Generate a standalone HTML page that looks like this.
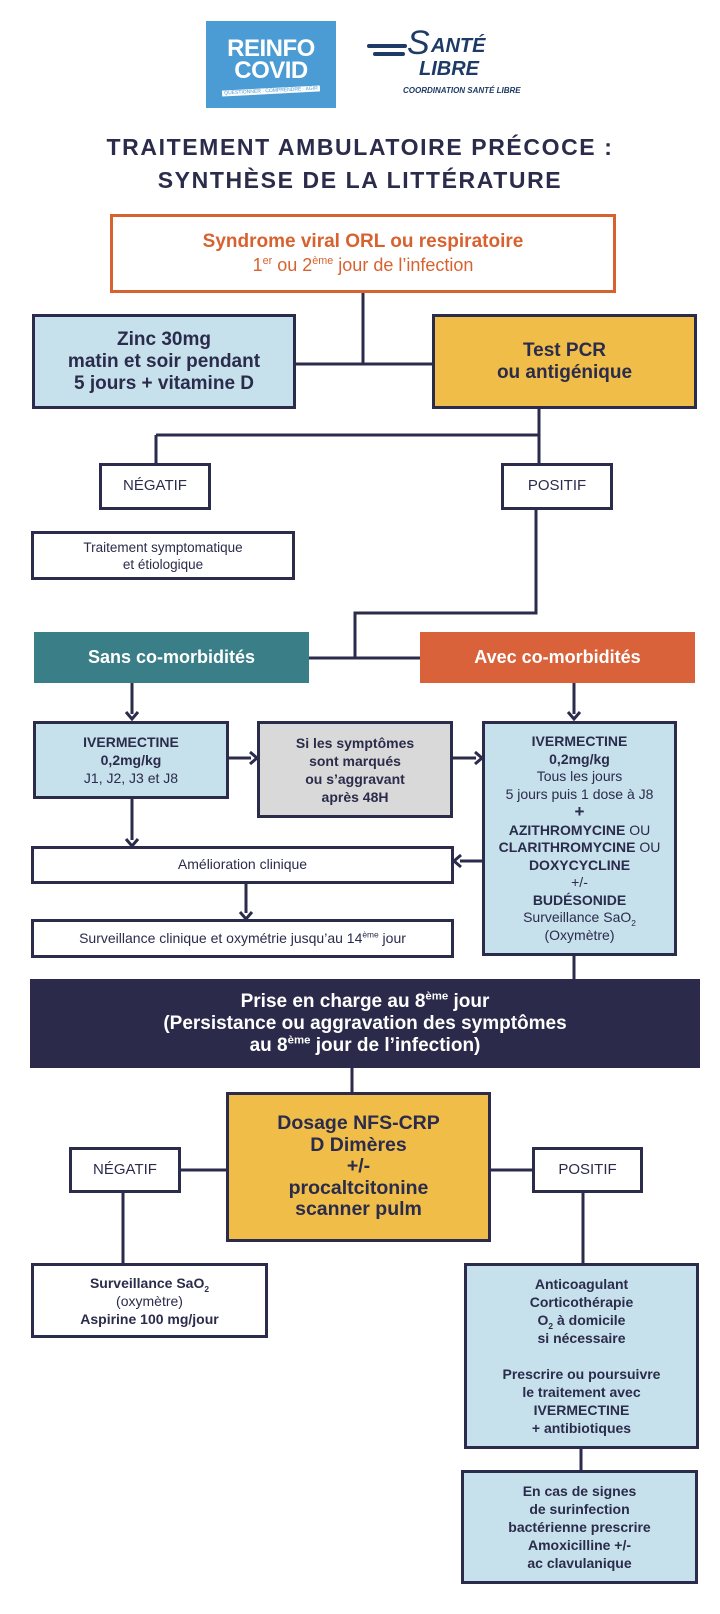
<!DOCTYPE html>
<html><head><meta charset="utf-8"><style>
*{margin:0;padding:0;box-sizing:border-box}
body{width:720px;height:1614px;background:#fff;position:relative;overflow:hidden;font-family:"Liberation Sans",sans-serif;color:#2b2b4b}
.b{position:absolute;display:flex;flex-direction:column;justify-content:center;align-items:center;text-align:center;border:3px solid #2b2b4b;line-height:1.25}
.b>div{width:100%}
.bold{font-weight:bold}
.lb{background:#c6e0ec}
.yl{background:#efbd48}
.w{background:#fff}
sup{font-size:60%;line-height:0;vertical-align:super}
sub{font-size:60%;line-height:0;vertical-align:sub}
svg{position:absolute;left:0;top:0}
</style></head><body>
<svg width="720" height="1614">
<g stroke="#2b2b4b" stroke-width="3" fill="none">
<path d="M363 293V364M296 364H432"/>
<path d="M539 409V435M156 435H539M156 435V463M539 435V463"/>
<path d="M536 510V613H355V658M309 658H420"/>
<path d="M132 683V714M574 683V714"/>
<path d="M229 758H251M453 758H476"/>
<path d="M132 799V840M482 861H460M246 884V913"/>
<path d="M574 956V979M352 1068V1092"/>
<path d="M181 1170H226M491 1170H532M123 1193V1263M583 1193V1263M581 1449V1470"/>
</g>
<g fill="none" stroke="#2b2b4b" stroke-width="3" stroke-linejoin="miter">
<path d="M126 712L132 719L138 712"/><path d="M568 712L574 719L580 712"/>
<path d="M250 752L257 758L250 764"/><path d="M475 752L482 758L475 764"/>
<path d="M126 839L132 846L138 839"/><path d="M461 855L454 861L461 867"/>
<path d="M240 912L246 919L252 912"/>
</g>
</svg>
<div style="position:absolute;left:206px;top:21px;width:130px;height:87px;background:#4b9bd5;color:#fff;text-align:center">
<div style="font-weight:bold;font-size:24px;line-height:22px;margin-top:17px;letter-spacing:-0.5px">REINFO<br>COVID</div>
<div style="font-size:5px;background:#fff;color:#4b9bd5;margin:6px 16px 0;transform:rotate(-3deg)">QUESTIONNER · COMPRENDRE · AGIR</div>
</div>
<div style="position:absolute;left:367px;top:26px;width:165px;height:72px;color:#1e3a66">
<div style="position:absolute;left:0;top:18px;width:40px;height:4px;background:#1e3a66;border-radius:2px"></div>
<div style="position:absolute;left:6px;top:26px;width:32px;height:4px;background:#1e3a66;border-radius:2px"></div>
<div style="position:absolute;left:40px;top:0px;font-size:34px;font-style:italic;line-height:34px">S</div>
<div style="position:absolute;left:64px;top:10px;font-size:20px;font-style:italic;font-weight:bold;line-height:20px">ANTÉ</div>
<div style="position:absolute;left:52px;top:33px;font-size:20px;font-style:italic;font-weight:bold;line-height:20px">LIBRE</div>
<div style="position:absolute;left:36px;top:60px;font-size:8px;font-weight:bold;font-style:italic;white-space:nowrap">COORDINATION SANTÉ LIBRE</div>
</div>
<div style="position:absolute;left:0;top:131px;width:720px;text-align:center;font-weight:bold;font-size:23px;line-height:33px;letter-spacing:1.6px;color:#2b2b4b">TRAITEMENT AMBULATOIRE PRÉCOCE :<br>SYNTHÈSE DE LA LITTÉRATURE</div>

<div class="b w" style="left:110px;top:214px;width:506px;height:79px;border-color:#d8622f;color:#d8622f"><div><div class="bold" style="font-size:19px">Syndrome viral ORL ou respiratoire</div><div style="font-size:18px">1<sup>er</sup> ou 2<sup>ème</sup> jour de l’infection</div></div></div>
<div class="b lb bold" style="left:32px;top:314px;width:264px;height:95px;font-size:19px;line-height:22px"><div>Zinc 30mg<br>matin et soir pendant<br>5 jours + vitamine D</div></div>
<div class="b yl bold" style="left:432px;top:314px;width:265px;height:95px;font-size:19px;line-height:22px"><div>Test PCR<br>ou antigénique</div></div>
<div class="b w" style="left:99px;top:463px;width:112px;height:47px;font-size:15px"><div>NÉGATIF</div></div>
<div class="b w" style="left:501px;top:463px;width:112px;height:47px;font-size:15px"><div>POSITIF</div></div>
<div class="b w" style="left:31px;top:531px;width:264px;height:49px;font-size:13.5px;line-height:17px"><div>Traitement symptomatique<br>et étiologique</div></div>
<div class="b bold" style="left:34px;top:632px;width:275px;height:51px;border:none;background:#3a7f87;color:#fff;font-size:18px"><div>Sans co-morbidités</div></div>
<div class="b bold" style="left:420px;top:632px;width:275px;height:51px;border:none;background:#d9623a;color:#fff;font-size:18px"><div>Avec co-morbidités</div></div>
<div class="b lb" style="left:33px;top:721px;width:196px;height:78px;font-size:14px;line-height:18px"><div><b>IVERMECTINE<br>0,2mg/kg</b><br>J1, J2, J3 et J8</div></div>
<div class="b bold" style="left:257px;top:721px;width:196px;height:97px;background:#d9d9d9;font-size:14px;line-height:18px"><div>Si les symptômes<br>sont marqués<br>ou s’aggravant<br>après 48H</div></div>
<div class="b lb" style="left:482px;top:721px;width:195px;height:235px;font-size:14px;line-height:17.5px"><div style="white-space:nowrap"><b>IVERMECTINE<br>0,2mg/kg</b><br>Tous les jours<br>5 jours puis 1 dose à J8<br><b style="font-size:17px">+</b><br><b>AZITHROMYCINE</b> OU<br><b>CLARITHROMYCINE</b> OU<br><b>DOXYCYCLINE</b><br>+/-<br><b>BUDÉSONIDE</b><br>Surveillance SaO<sub>2</sub><br>(Oxymètre)</div></div>
<div class="b w" style="left:31px;top:846px;width:423px;height:38px;font-size:14px"><div>Amélioration clinique</div></div>
<div class="b w" style="left:31px;top:919px;width:423px;height:39px;font-size:14px"><div>Surveillance clinique et oxymétrie jusqu’au 14<sup>ème</sup> jour</div></div>
<div class="b bold" style="left:30px;top:979px;width:670px;height:89px;border:none;background:#2b2a4a;color:#fff;font-size:19px;line-height:22px"><div>Prise en charge au 8<sup>ème</sup> jour<br>(Persistance ou aggravation des symptômes<br>au 8<sup>ème</sup> jour de l’infection)</div></div>
<div class="b yl bold" style="left:226px;top:1092px;width:265px;height:150px;font-size:19.5px;line-height:21.5px"><div>Dosage NFS-CRP<br>D Dimères<br>+/-<br>procaltcitonine<br>scanner pulm</div></div>
<div class="b w" style="left:69px;top:1147px;width:112px;height:46px;font-size:15px"><div>NÉGATIF</div></div>
<div class="b w" style="left:532px;top:1147px;width:111px;height:46px;font-size:15px"><div>POSITIF</div></div>
<div class="b w" style="left:31px;top:1263px;width:237px;height:75px;font-size:14px;line-height:18px"><div><b>Surveillance SaO<sub>2</sub></b><br>(oxymètre)<br><b>Aspirine 100 mg/jour</b></div></div>
<div class="b lb bold" style="left:464px;top:1263px;width:235px;height:186px;font-size:14px;line-height:18px"><div>Anticoagulant<br>Corticothérapie<br>O<sub>2</sub> à domicile<br>si nécessaire<br><br>Prescrire ou poursuivre<br>le traitement avec<br>IVERMECTINE<br>+ antibiotiques</div></div>
<div class="b lb bold" style="left:461px;top:1470px;width:237px;height:114px;font-size:14px;line-height:18px"><div>En cas de signes<br>de surinfection<br>bactérienne prescrire<br>Amoxicilline +/-<br>ac clavulanique</div></div>
</body></html>
